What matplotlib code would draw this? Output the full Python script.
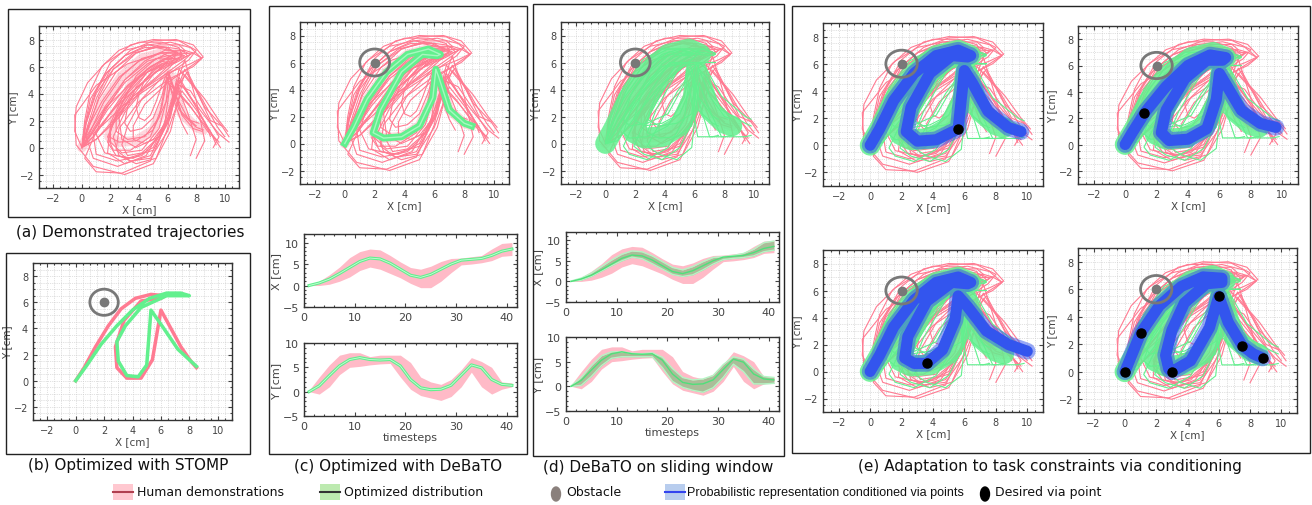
import numpy as np
import matplotlib.pyplot as plt
from matplotlib.patches import Rectangle, Circle, Ellipse
from matplotlib.lines import Line2D
from matplotlib.ticker import MultipleLocator

W, H = 1312, 506

# timesteps sampled every 2 steps
timesteps = np.arange(1, 42, 2)

# mean / optimized trajectory (X(t), Y(t)) in cm
mean_x = [0.0, 0.6, 1.5, 2.8, 4.2, 5.6, 6.4, 6.2, 5.2, 3.8, 2.4, 1.9, 2.6, 3.8, 5.0, 5.9, 6.1, 6.3, 7.0, 8.0, 8.5]
mean_y = [0.0, 1.2, 3.3, 5.3, 6.6, 7.0, 6.6, 6.5, 6.6, 5.3, 2.5, 0.8, 0.4, 0.5, 1.3, 3.4, 5.5, 4.9, 2.5, 1.5, 1.3]

# spread of the human demonstrations
demo_x_lo = [0.0, 0.0, 0.3, 1.0, 2.0, 3.5, 4.3, 3.8, 2.8, 1.8, 0.5, -0.5, -0.5, 1.0, 3.0, 4.8, 5.0, 5.3, 5.8, 6.8, 7.0]
demo_x_hi = [0.2, 1.0, 2.5, 4.3, 6.5, 7.9, 8.5, 8.3, 7.0, 5.5, 4.2, 3.8, 4.5, 5.6, 6.3, 6.4, 6.7, 7.0, 8.5, 9.8, 10.0]
demo_y_lo = [0.0, -0.5, 1.0, 3.5, 5.0, 5.2, 5.5, 5.7, 5.8, 3.0, 0.5, -0.8, -1.3, -1.8, -1.0, 1.0, 4.0, 1.0, -0.5, 0.5, 1.0]
demo_y_hi = [0.3, 3.0, 5.5, 7.5, 8.0, 8.0, 7.2, 7.5, 7.5, 7.5, 6.0, 3.0, 2.0, 1.5, 2.5, 4.5, 7.0, 6.2, 5.0, 2.0, 1.8]

# spread of the optimized distribution (sliding window)
opt_x_lo = [0.0, 0.3, 1.2, 2.5, 3.8, 5.0, 5.9, 5.5, 4.3, 3.0, 1.7, 1.2, 1.6, 2.8, 4.2, 5.3, 5.6, 5.8, 6.2, 7.2, 7.6]
opt_x_hi = [0.1, 0.8, 2.0, 3.6, 5.2, 6.6, 7.4, 7.2, 6.2, 4.8, 3.4, 2.8, 3.6, 4.8, 5.8, 6.0, 6.3, 6.8, 7.8, 9.4, 9.8]
opt_y_lo = [0.0, 0.2, 2.0, 4.2, 5.7, 6.0, 6.0, 6.0, 6.0, 3.8, 1.0, -0.2, -0.8, -1.2, -0.3, 1.8, 4.5, 3.0, 0.5, 0.5, 0.6]
opt_y_hi = [0.1, 1.8, 4.2, 6.2, 7.0, 7.0, 6.7, 6.6, 6.8, 5.9, 3.6, 1.8, 1.3, 1.5, 2.2, 4.4, 6.0, 5.5, 3.5, 2.0, 1.8]

# individual human demonstrations
demos_x = [
    [0, 0.6, 1.5, 2.8, 4.2, 5.6, 6.4, 6.2, 5.2, 3.8, 2.4, 1.9, 2.6, 3.8, 5.0, 5.9, 6.1, 6.3, 7.0, 8.0, 8.5],
    [0, 0.3, 1.0, 2.0, 3.4, 5.0, 6.8, 8.0, 7.5, 5.5, 3.0, 1.0, 0.2, 1.0, 2.8, 4.8, 6.0, 6.8, 8.2, 9.5, 10.0],
    [0, 0.8, 2.0, 3.3, 4.5, 5.5, 6.0, 5.6, 4.6, 3.8, 3.2, 3.0, 3.4, 4.2, 5.0, 5.6, 5.9, 6.2, 6.8, 7.6, 8.2],
    [0, -0.5, -0.4, 0.4, 1.6, 3.0, 4.6, 6.0, 6.6, 5.5, 3.5, 1.5, 0.3, 0.8, 2.5, 4.5, 5.8, 6.2, 7.5, 8.8, 9.6],
    [0, 0.5, 1.2, 2.2, 3.6, 5.2, 6.6, 7.0, 6.0, 4.2, 2.2, 0.8, 1.0, 2.5, 4.2, 5.6, 6.4, 7.2, 8.0, 8.6, 8.0],
    [0, 1.0, 2.4, 3.8, 5.0, 6.2, 7.2, 7.8, 7.0, 5.4, 3.6, 2.6, 2.8, 3.8, 5.0, 6.0, 6.6, 7.4, 8.6, 9.8, 10.3],
    [0, 0.2, 0.8, 1.8, 3.0, 4.4, 5.8, 6.6, 6.4, 5.2, 3.6, 2.4, 1.8, 2.2, 3.4, 4.8, 5.6, 6.0, 6.4, 7.0, 7.4],
    [0, 0.7, 1.8, 3.2, 4.8, 6.4, 7.8, 8.4, 7.6, 6.0, 4.4, 3.6, 3.6, 4.4, 5.4, 6.2, 6.8, 7.6, 8.8, 9.6, 9.2],
    [0, 0.4, 1.2, 2.4, 3.8, 5.4, 6.8, 7.2, 5.6, 3.2, 1.0, -0.5, -0.4, 0.8, 3.0, 5.0, 6.2, 7.0, 8.4, 9.6, 10.3],
    [0, 0.4, 1.0, 2.0, 3.4, 5.0, 6.6, 7.8, 8.5, 7.6, 5.8, 3.6, 2.0, 1.8, 3.0, 4.8, 6.0, 6.8, 8.0, 9.2, 9.7],
    [0, 1.0, 2.2, 3.4, 4.4, 5.2, 5.6, 5.2, 4.4, 4.0, 3.8, 4.0, 4.4, 4.8, 5.2, 5.6, 6.0, 6.4, 7.0, 7.8, 8.4],
    [0, 0.2, 0.6, 1.4, 2.6, 4.0, 5.6, 6.8, 7.0, 6.0, 4.4, 3.0, 2.2, 2.6, 3.8, 5.2, 6.0, 6.6, 7.4, 8.0, 7.6],
    [0, 0.8, 1.8, 3.0, 4.4, 5.8, 7.0, 7.4, 6.8, 5.2, 3.4, 2.2, 1.8, 2.4, 3.6, 5.0, 6.2, 7.2, 8.6, 9.6, 10.2],
    [0, 0.4, 1.4, 2.6, 4.0, 5.4, 6.6, 7.2, 6.8, 5.6, 4.0, 2.8, 2.0, 2.0, 2.8, 4.2, 5.4, 6.2, 7.6, 8.8, 9.4],
    [0, 0.6, 1.6, 3.0, 4.6, 6.0, 7.0, 7.0, 6.0, 4.6, 3.0, 1.6, 1.0, 1.6, 3.2, 5.0, 6.2, 6.8, 7.8, 8.8, 9.0],
    [0, 0.3, 1.0, 2.2, 3.8, 5.4, 6.8, 7.6, 7.2, 5.8, 4.2, 3.2, 2.8, 3.2, 4.2, 5.4, 6.4, 7.2, 8.2, 9.0, 9.8],
    [0, 0.9, 2.0, 3.2, 4.6, 5.8, 6.6, 6.6, 5.8, 4.6, 3.2, 2.4, 2.4, 3.2, 4.4, 5.4, 5.8, 6.0, 6.6, 7.4, 8.0],
    [0, 0.2, 0.6, 1.6, 3.0, 4.6, 6.2, 7.6, 8.4, 7.8, 6.0, 4.0, 2.6, 2.4, 3.4, 4.8, 6.0, 7.0, 8.0, 9.0, 9.4],
]
demos_y = [
    [0, 1.2, 3.3, 5.3, 6.6, 7.0, 6.6, 6.5, 6.6, 5.3, 2.5, 0.8, 0.4, 0.5, 1.3, 3.4, 5.5, 4.9, 2.5, 1.5, 1.3],
    [0, 1.8, 4.2, 6.3, 7.6, 8.0, 7.9, 7.2, 6.5, 5.0, 3.2, 1.2, -0.8, -1.8, -1.9, -1.0, 2.0, 5.8, 4.0, 1.5, 0.8],
    [0, 0.8, 2.5, 4.3, 5.7, 6.4, 6.3, 6.0, 5.6, 4.5, 3.0, 1.8, 1.2, 1.4, 2.2, 3.8, 5.0, 4.5, 2.8, 2.0, 1.8],
    [0, 1.2, 3.0, 4.8, 6.2, 7.2, 7.6, 7.4, 7.0, 6.3, 4.8, 2.8, 0.8, -0.8, -1.4, -0.6, 1.8, 4.8, 3.2, 1.2, 0.4],
    [0, 1.5, 3.8, 5.8, 7.0, 7.4, 7.1, 6.8, 6.2, 4.8, 2.8, 1.0, -0.5, -1.0, -0.6, 1.0, 4.0, 6.5, 3.5, 0.5, -0.8],
    [0, 0.6, 2.0, 3.8, 5.4, 6.6, 7.2, 7.0, 6.6, 5.8, 4.2, 2.2, 0.6, 0.0, 0.6, 2.0, 4.4, 5.6, 3.0, 1.6, 0.8],
    [0, 1.6, 3.8, 5.6, 6.8, 7.4, 7.4, 7.0, 6.4, 5.2, 3.8, 2.2, 0.8, -0.2, -0.2, 0.8, 3.0, 5.2, 3.6, 1.8, 1.0],
    [0, 1.0, 2.8, 4.6, 6.0, 6.9, 7.0, 6.6, 6.0, 4.8, 3.2, 1.6, 0.6, 0.3, 0.8, 2.4, 4.6, 4.2, 2.2, 0.8, 0.0],
    [0, 1.4, 3.6, 5.6, 7.0, 7.6, 7.6, 7.2, 7.0, 6.2, 4.6, 2.4, 0.2, -1.4, -2.0, -1.2, 1.2, 4.6, 2.6, 1.0, 0.4],
    [0, 1.6, 3.6, 5.8, 7.2, 7.9, 8.0, 7.6, 6.7, 6.2, 5.4, 3.8, 1.6, -0.4, -1.2, -0.6, 1.8, 5.0, 3.0, 0.8, 0.0],
    [0, 0.6, 2.0, 3.6, 5.0, 6.0, 6.2, 5.8, 5.0, 4.0, 3.0, 2.2, 2.0, 2.4, 3.4, 4.6, 5.6, 4.4, 2.4, 1.4, 1.2],
    [0, 2.0, 4.2, 6.0, 7.2, 7.8, 7.8, 7.4, 6.8, 5.8, 4.4, 2.6, 0.8, -0.6, -1.2, -0.8, 1.4, 4.8, 2.6, 0.6, -0.6],
    [0, 1.2, 3.0, 5.0, 6.4, 7.2, 7.2, 6.8, 6.4, 5.6, 4.0, 2.0, 0.4, -0.6, -0.8, 0.0, 2.6, 5.4, 3.6, 2.0, 1.2],
    [0, 1.4, 3.4, 5.2, 6.4, 7.0, 7.0, 6.8, 6.6, 6.2, 5.2, 3.6, 1.8, 0.4, -0.4, -0.2, 1.4, 4.6, 3.0, 1.4, 0.6],
    [0, 1.0, 2.8, 4.8, 6.2, 7.0, 7.0, 6.8, 6.8, 6.4, 5.0, 3.0, 1.0, -0.4, -0.8, -0.2, 2.2, 5.2, 3.4, 1.4, 0.8],
    [0, 1.8, 4.0, 5.8, 7.0, 7.5, 7.3, 6.9, 6.5, 5.4, 3.6, 1.6, 0.2, -0.6, -0.4, 0.8, 3.6, 5.8, 3.8, 2.0, 1.6],
    [0, 0.9, 2.6, 4.4, 5.8, 6.6, 6.6, 6.3, 6.2, 5.6, 4.0, 2.4, 1.2, 0.6, 0.8, 2.2, 4.4, 5.6, 3.8, 2.2, 1.6],
    [0, 1.6, 3.6, 5.4, 6.8, 7.6, 7.8, 7.4, 6.6, 6.0, 5.0, 3.4, 1.4, -0.2, -1.0, -0.8, 1.2, 4.2, 2.8, 1.2, 0.2],
]

# STOMP results
stomp_demo_x = [0, 0.6, 1.4, 2.3, 3.2, 4.2, 5.3, 6.3, 6.0, 4.6, 3.4, 2.8, 2.9, 3.6, 4.6, 5.4, 6.0, 6.6, 7.4, 8.1, 8.5]
stomp_demo_y = [0, 1.0, 2.6, 4.2, 5.5, 6.3, 6.6, 6.5, 6.3, 6.1, 4.6, 2.6, 1.0, 0.2, 0.2, 1.6, 5.4, 4.2, 2.6, 1.5, 1.0]
stomp_opt_x = [0, 0.8, 1.8, 2.9, 4.0, 5.2, 6.4, 7.4, 8.0, 6.4, 4.6, 3.5, 2.9, 3.0, 3.6, 4.4, 5.0, 5.3, 6.2, 7.2, 8.5]
stomp_opt_y = [0, 1.2, 2.8, 4.2, 5.4, 6.3, 6.7, 6.7, 6.5, 6.5, 5.6, 4.2, 3.0, 1.5, 0.4, 0.3, 1.2, 5.4, 4.0, 2.4, 1.1]

# conditioned trajectories (e) and their via points
cond_x = [
    [0, 0.6, 1.5, 2.8, 4.2, 5.6, 6.4, 6.2, 5.2, 3.8, 2.6, 2.3, 3.0, 4.2, 5.6, 5.8, 6.0, 6.5, 7.5, 8.8, 9.6],
    [0, 0.5, 1.3, 2.6, 4.0, 5.4, 6.4, 6.2, 5.2, 3.8, 2.6, 2.3, 2.8, 4.0, 5.2, 5.8, 6.0, 6.4, 7.4, 8.6, 9.6],
    [0, 0.6, 1.5, 2.8, 4.2, 5.6, 6.4, 6.2, 5.2, 3.6, 2.4, 2.2, 2.8, 3.6, 4.6, 5.4, 5.6, 6.2, 7.4, 8.8, 10.0],
    [0, 0.5, 1.0, 2.2, 3.6, 5.0, 6.2, 6.2, 5.2, 3.8, 3.0, 2.6, 2.8, 3.0, 4.2, 5.4, 6.0, 6.6, 7.5, 8.2, 8.8],
]
cond_y = [
    [0, 1.2, 3.3, 5.3, 6.6, 7.0, 6.6, 6.5, 6.6, 5.3, 2.8, 1.0, 0.3, 0.4, 1.2, 3.4, 5.5, 4.6, 2.5, 1.3, 1.0],
    [0, 1.0, 2.5, 4.4, 6.0, 6.8, 6.6, 6.4, 6.4, 5.0, 2.6, 0.9, 0.3, 0.4, 1.2, 3.4, 5.4, 4.6, 2.6, 1.6, 1.3],
    [0, 1.2, 3.3, 5.3, 6.6, 7.0, 6.6, 6.5, 6.6, 5.2, 2.6, 1.0, 0.6, 0.6, 1.6, 3.8, 5.6, 4.8, 3.0, 2.0, 1.5],
    [0, 1.4, 2.8, 4.8, 6.2, 6.9, 6.8, 6.5, 6.4, 5.0, 3.0, 1.2, 0.2, 0.0, 0.8, 3.2, 5.5, 3.6, 1.9, 1.3, 1.0],
]
via_x = [[5.6], [1.2], [3.6], [0.0, 1.0, 3.0, 6.0, 7.5, 8.8]]
via_y = [[1.2], [2.4], [0.6], [0.0, 2.8, 0.0, 5.5, 1.9, 1.0]]

obstacle = (2.0, 6.0)
obstacle_r = 1.0

PINK = '#ff7b92'
PINK_BAND = '#ffbac7'
GREEN = '#62f08e'
BLUE = '#3355ee'
GRAY = '#787878'

fig = plt.figure(figsize=(W / 100, H / 100), dpi=100)


def px_rect(x0, y0, x1, y1):
    return [x0 / W, 1 - y1 / H, (x1 - x0) / W, (y1 - y0) / H]


def style(ax, size):
    ax.tick_params(which='both', direction='in', top=True, right=True,
                   labelsize=size, colors='#444444', length=3, width=0.8)
    ax.tick_params(which='minor', length=1.5)
    for s in ax.spines.values():
        s.set_color('#333333')
        s.set_linewidth(1.0)


def xy_axes(rect):
    ax = fig.add_axes(px_rect(*rect))
    ax.set_xlim(-3, 11)
    ax.set_ylim(-3, 9)
    ax.set_xticks(range(-2, 11, 2))
    ax.set_yticks(range(-2, 9, 2))
    ax.xaxis.set_minor_locator(MultipleLocator(0.5))
    ax.yaxis.set_minor_locator(MultipleLocator(0.5))
    ax.grid(which='both', ls=':', lw=0.5, color='#c4c4c4')
    ax.set_axisbelow(True)
    style(ax, 7)
    ax.set_xlabel('X [cm]', fontsize=7.5, color='#444444', labelpad=1)
    ax.set_ylabel('Y [cm]', fontsize=7.5, color='#444444', labelpad=1)
    return ax


def ts_axes(rect, label, xlabel=None, ymax=10):
    ax = fig.add_axes(px_rect(*rect))
    ax.set_xlim(0, 42)
    ax.set_ylim(-5, ymax)
    ax.set_xticks([0, 10, 20, 30, 40])
    ax.set_yticks([-5, 0, 5, 10])
    ax.xaxis.set_minor_locator(MultipleLocator(2))
    ax.yaxis.set_minor_locator(MultipleLocator(1))
    style(ax, 8)
    ax.set_ylabel(label, fontsize=8, color='#444444', labelpad=1)
    if xlabel:
        ax.set_xlabel(xlabel, fontsize=8, color='#444444', labelpad=1)
    return ax


def draw_demos(ax, lw=0.8):
    ax.plot(mean_x, mean_y, color=PINK, lw=7, alpha=0.3, zorder=2,
            solid_joinstyle='round', solid_capstyle='round')
    for dx, dy in zip(demos_x, demos_y):
        ax.plot(dx, dy, color=PINK, lw=lw, zorder=2)


def draw_opt_samples(ax):
    for sx, sy in [(opt_x_lo, opt_y_lo), (opt_x_hi, opt_y_hi),
                   (opt_x_lo, opt_y_hi), (opt_x_hi, opt_y_lo),
                   (mean_x, opt_y_lo), (mean_x, opt_y_hi),
                   (opt_x_lo, mean_y), (opt_x_hi, mean_y)]:
        ax.plot(sx, sy, color=GREEN, lw=0.8, zorder=3)
    ax.plot(mean_x, mean_y, color=GREEN, lw=15, alpha=0.85, zorder=3,
            solid_joinstyle='round', solid_capstyle='round')


def draw_obstacle(ax):
    ax.add_patch(Circle(obstacle, obstacle_r, fill=False, ec=GRAY, lw=2, zorder=6))
    ax.plot(*obstacle, 'o', color=GRAY, ms=6, zorder=6)


# panel frames
for x0, y0, x1, y1 in [(8, 10, 250, 218), (6, 254, 250, 455), (269, 7, 527, 455),
                       (533, 5, 784, 457), (792, 7, 1310, 454)]:
    fig.add_artist(Rectangle((x0 / W, 1 - y1 / H), (x1 - x0) / W, (y1 - y0) / H,
                             transform=fig.transFigure, fill=False, ec='#222222', lw=1))

# (a)
ax = xy_axes((39, 27, 239, 189))
draw_demos(ax)

# (b)
ax = xy_axes((33, 264, 232, 421))
ax.plot(stomp_demo_x, stomp_demo_y, color=PINK, lw=2.5, zorder=3)
ax.plot(stomp_opt_x, stomp_opt_y, color=GREEN, lw=2.5, zorder=4)
draw_obstacle(ax)

# (c)
ax = xy_axes((300, 23, 509, 185))
draw_demos(ax)
ax.plot(mean_x, mean_y, color=GREEN, lw=5, zorder=4, solid_joinstyle='round')
ax.plot(mean_x, mean_y, color='#a8f7c0', lw=1, zorder=4)
draw_obstacle(ax)

for rect, lo, hi, m, lab, xl in [((304, 235, 517, 308), demo_x_lo, demo_x_hi, mean_x, 'X [cm]', None),
                                 ((304, 344, 517, 417), demo_y_lo, demo_y_hi, mean_y, 'Y [cm]', 'timesteps')]:
    ax = ts_axes(rect, lab, xl, ymax=12 if xl is None else 10)
    ax.fill_between(timesteps, lo, hi, color=PINK_BAND, lw=0)
    ax.plot(timesteps, m, color=GREEN, lw=2.2)
    ax.plot(timesteps, m, color='#c8fcd8', lw=0.6)

# (d)
ax = xy_axes((561, 23, 769, 185))
draw_demos(ax)
draw_opt_samples(ax)
draw_obstacle(ax)

for rect, lo, hi, glo, ghi, m, lab, xl in [
        ((566, 233, 779, 303), demo_x_lo, demo_x_hi, opt_x_lo, opt_x_hi, mean_x, 'X [cm]', None),
        ((566, 338, 779, 412), demo_y_lo, demo_y_hi, opt_y_lo, opt_y_hi, mean_y, 'Y [cm]', 'timesteps')]:
    ax = ts_axes(rect, lab, xl, ymax=12 if xl is None else 10)
    ax.fill_between(timesteps, lo, hi, color=PINK_BAND, lw=0)
    ax.fill_between(timesteps, glo, ghi, color='#8fbf8a', alpha=0.75, lw=0)
    ax.plot(timesteps, glo, color='#b4f5c4', lw=1)
    ax.plot(timesteps, ghi, color='#b4f5c4', lw=1)
    ax.plot(timesteps, m, color='#4fe07a', lw=1)

# (e)
for i, rect in enumerate([(823, 24, 1043, 187), (1078, 27, 1298, 185),
                          (823, 251, 1043, 413), (1078, 249, 1297, 414)]):
    ax = xy_axes(rect)
    draw_demos(ax)
    draw_opt_samples(ax)
    ax.plot(cond_x[i], cond_y[i], color=BLUE, lw=12, alpha=0.5, zorder=4,
            solid_joinstyle='round', solid_capstyle='round')
    ax.plot(cond_x[i], cond_y[i], color=BLUE, lw=8, zorder=4,
            solid_joinstyle='round', solid_capstyle='round')
    ax.plot(via_x[i], via_y[i], 'o', color='black', ms=6.5, zorder=7)
    draw_obstacle(ax)

# captions
for cx, cy, txt in [(130, 232, '(a) Demonstrated trajectories'),
                    (128, 466, '(b) Optimized with STOMP'),
                    (398, 467, '(c) Optimized with DeBaTO'),
                    (658, 468, '(d) DeBaTO on sliding window'),
                    (1050, 467, '(e) Adaptation to task constraints via conditioning')]:
    fig.text(cx / W, 1 - cy / H, txt, ha='center', va='center', fontsize=11, color='#111111')

# legend
ly = 1 - 493 / H


def leg_patch(x0, face, line):
    fig.add_artist(Rectangle((x0 / W, 1 - 501 / H), 20 / W, 16 / H,
                             transform=fig.transFigure, color=face, lw=0))
    fig.add_artist(Line2D([x0 / W, (x0 + 20) / W], [ly, ly], transform=fig.transFigure,
                          color=line, lw=1.5))


leg_patch(113, '#ffc8d0', '#b04050')
fig.text(137 / W, ly, 'Human demonstrations', va='center', fontsize=9, color='#111111')
leg_patch(320, '#bdeab0', '#333333')
fig.text(344 / W, ly, 'Optimized distribution', va='center', fontsize=9, color='#111111')
fig.add_artist(Ellipse((556 / W, 1 - 495 / H), 9 / W, 14 / H, transform=fig.transFigure,
                       color='#8a807c'))
fig.text(566 / W, ly, 'Obstacle', va='center', fontsize=9, color='#111111')
leg_patch(665, '#b8cdee', '#3344ee')
fig.text(687 / W, ly, 'Probabilistic representation conditioned via points', va='center',
         fontsize=9, family=['Liberation Sans Narrow', 'Liberation Sans', 'DejaVu Sans'],
         color='#111111')
fig.add_artist(Ellipse((985 / W, 1 - 495 / H), 9 / W, 14 / H, transform=fig.transFigure,
                       color='black'))
fig.text(995 / W, ly, 'Desired via point', va='center', fontsize=9, color='#111111')

fig.savefig('out.png', dpi=100)
